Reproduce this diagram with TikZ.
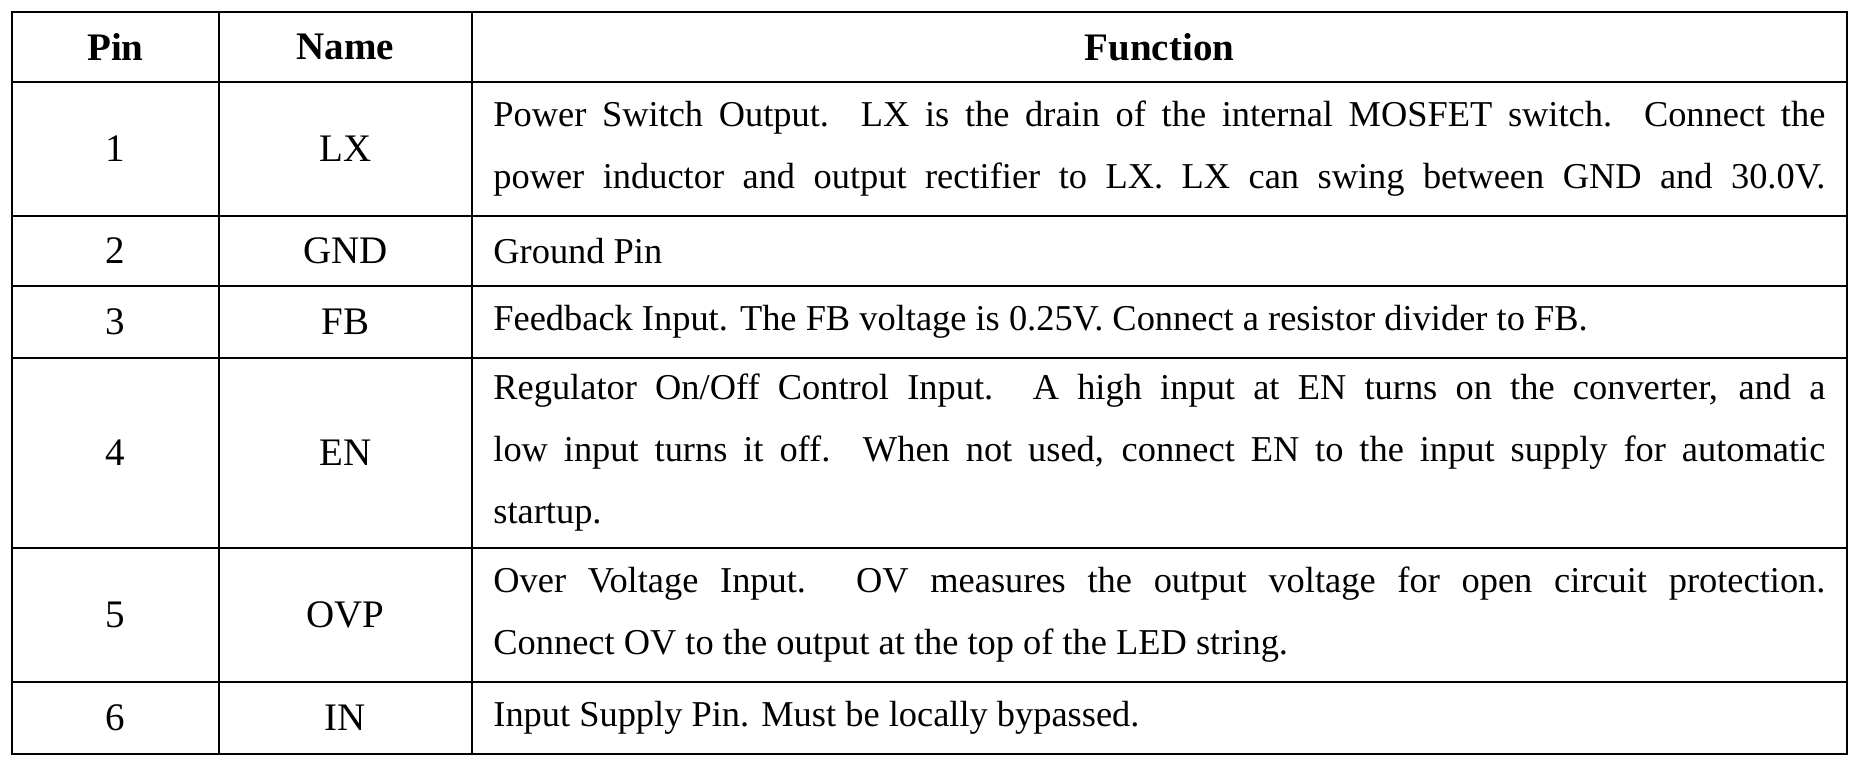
\documentclass[tikz,border=0pt]{standalone}
\usepackage{fontspec}
\setmainfont{Liberation Serif}
\newcommand{\fullline}[1]{\makebox[666pt][s]{#1}}
\begin{document}
\begin{tikzpicture}[x=1pt,y=-1pt,
	cell/.style={font=\fontsize{19.5}{31}\selectfont},
	head/.style={font=\fontsize{19.5}{31}\selectfont\bfseries},
	func/.style={font=\fontsize{18.2}{31}\selectfont,anchor=west,align=left,inner sep=0pt}]
\useasboundingbox (0,0) rectangle (929.5,381.5);
% grid
\draw[line width=1pt] (6,6) rectangle (923.5,377);
\draw[line width=1pt] (109.5,6) -- (109.5,377) (236,6) -- (236,377);
\foreach \y in {41,108,143,179,274,341}
	\draw[line width=1pt] (6,\y) -- (923.5,\y);
% header
\node[head] (hpin) at (57.75,23.5) {Pin};
\node[head] (hname) at (172.75,23.5) {Name};
\node[head] (hfunc) at (579.75,23.5) {Function};
% rows
\node[cell] (p1) at (57.75,74.5) {1};
\node[cell] (n1) at (172.75,74.5) {LX};
\node[func] (f1) at (246.5,74.5) {\fullline{Power Switch Output. LX is the drain of the internal MOSFET switch. Connect the}\\
	\fullline{power inductor and output rectifier to LX. LX can swing between GND and 30.0V.}};
\node[cell] (p2) at (57.75,125.5) {2};
\node[cell] (n2) at (172.75,125.5) {GND};
\node[func] (f2) at (246.5,125.5) {Ground Pin};
\node[cell] (p3) at (57.75,161) {3};
\node[cell] (n3) at (172.75,161) {FB};
\node[func] (f3) at (246.5,161) {Feedback Input. The FB voltage is 0.25V. Connect a resistor divider to FB.};
\node[cell] (p4) at (57.75,226.5) {4};
\node[cell] (n4) at (172.75,226.5) {EN};
\node[func] (f4) at (246.5,226.5) {\fullline{Regulator On/Off Control Input. A high input at EN turns on the converter, and a}\\
	\fullline{low input turns it off. When not used, connect EN to the input supply for automatic}\\
	startup.};
\node[cell] (p5) at (57.75,307.5) {5};
\node[cell] (n5) at (172.75,307.5) {OVP};
\node[func] (f5) at (246.5,307.5) {\fullline{Over Voltage Input. OV measures the output voltage for open circuit protection.}\\
	Connect OV to the output at the top of the LED string.};
\node[cell] (p6) at (57.75,359) {6};
\node[cell] (n6) at (172.75,359) {IN};
\node[func] (f6) at (246.5,359) {Input Supply Pin. Must be locally bypassed.};
\end{tikzpicture}
\end{document}
